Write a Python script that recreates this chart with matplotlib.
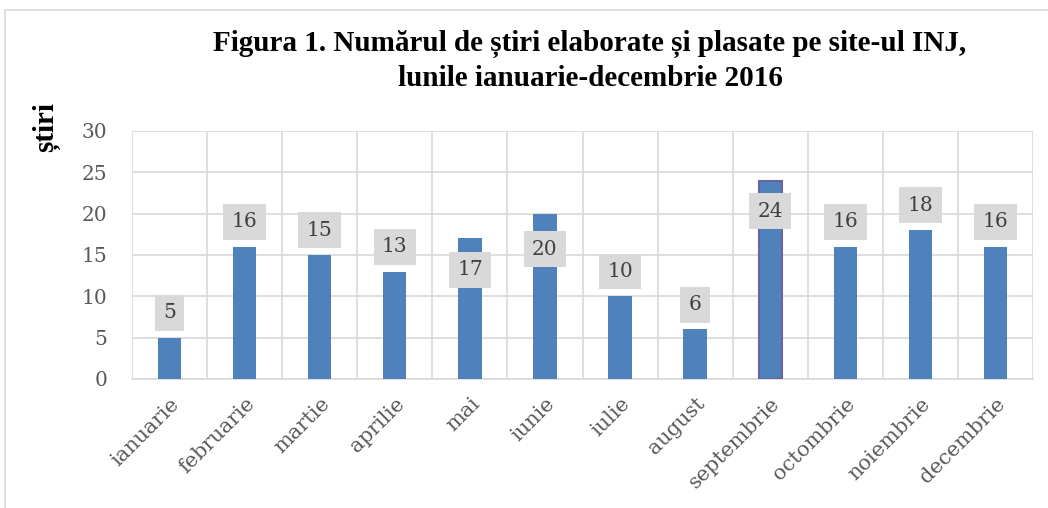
import matplotlib.pyplot as plt
from matplotlib.patches import Rectangle
import numpy as np

months = ['ianuarie', 'februarie', 'martie', 'aprilie', 'mai', 'iunie',
          'iulie', 'august', 'septembrie', 'octombrie', 'noiembrie', 'decembrie']
stiri = [5, 16, 15, 13, 17, 20, 10, 6, 24, 16, 18, 16]
yticks = [0, 5, 10, 15, 20, 25, 30]
title = 'Figura 1. Numărul de știri elaborate și plasate pe site-ul INJ,\nlunile ianuarie-decembrie 2016'
ylabel = 'știri'

# label placement: most sit above the bar, a few were dragged down onto it
label_shift = [3, 3, 3, 3, -3.8, -4.3, 3, 3, -3.7, 3, 3, 3]

bar_color = '#4f81bd'
grid_color = '#d9d9d9'
text_color = '#595959'

fig = plt.figure(figsize=(10.48, 5.08), dpi=100)
ax = fig.add_axes([132 / 1048, 1 - 379 / 508, 901 / 1048, 248 / 508])

# chart border
fig.patches.append(Rectangle((5 / 1048, -0.1), 1.2, 1 - 10 / 508 + 0.1,
                             transform=fig.transFigure, fill=False,
                             edgecolor=grid_color, linewidth=1.2))

x = np.arange(len(months))
bars = ax.bar(x, stiri, width=0.31, color=bar_color, zorder=3)
bars[8].set_edgecolor('#6b63a0')
bars[8].set_linewidth(1.5)

for i, v in enumerate(stiri):
    ax.text(i, v + label_shift[i], str(v), ha='center', va='center',
            fontsize=14.5, family='DejaVu Serif', color='#404040', zorder=5,
            bbox=dict(boxstyle='square,pad=0.42', facecolor='#d9d9d9',
                      edgecolor='none'))

ax.set_xlim(-0.5, len(months) - 0.5)
ax.set_ylim(0, 30)
ax.set_yticks(yticks)
ax.set_xticks(x)
ax.set_xticklabels(months, rotation=45, ha='right', rotation_mode='anchor',
                   family='DejaVu Serif', fontsize=15, color=text_color)
ax.set_xticks(np.arange(-0.5, len(months), 1), minor=True)
for lab in ax.get_yticklabels():
    lab.set_family('DejaVu Serif')
    lab.set_fontsize(14.5)
    lab.set_color(text_color)

ax.grid(True, axis='y', color=grid_color, linewidth=1.2, zorder=0)
ax.grid(True, axis='x', which='minor', color=grid_color, linewidth=1.2, zorder=0)
ax.tick_params(axis='both', which='both', length=0)
ax.tick_params(axis='y', pad=18)
ax.tick_params(axis='x', pad=11)
for side in ['top', 'right', 'left']:
    ax.spines[side].set_visible(False)
ax.spines['bottom'].set_color(grid_color)
ax.spines['bottom'].set_linewidth(1.2)

fig.text(0.563, 1 - 61 / 508, title, ha='center', va='center',
         family='Liberation Serif', fontweight='bold', fontsize=21,
         linespacing=1.3)
fig.text(46 / 1048, 1 - 127 / 508, ylabel, ha='center', va='center',
         rotation=90, family='Liberation Serif', fontweight='bold', fontsize=21)

fig.savefig('out.png', dpi=100)
